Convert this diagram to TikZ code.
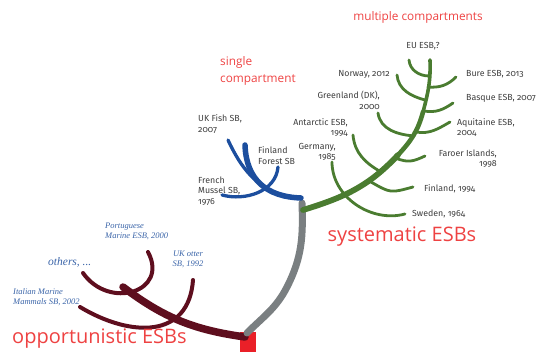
\documentclass[tikz,border=0pt]{standalone}
\usepackage{fontspec}
\setmainfont{Liberation Serif}
\newfontfamily\labfont[Numbers=OldStyle]{Fira Sans}
\newfontfamily\redfont{Open Sans}
\definecolor{esbgreen}{RGB}{74,124,48}
\definecolor{esbblue}{RGB}{28,78,158}
\definecolor{esbmaroon}{RGB}{94,14,30}
\definecolor{esbgrey}{RGB}{122,127,129}
\definecolor{esbred}{RGB}{234,32,40}
\definecolor{redtext}{RGB}{238,66,66}
\definecolor{bluetext}{RGB}{58,100,168}
\definecolor{darktext}{RGB}{62,62,62}
\tikzset{
  lab/.style={inner sep=0pt, text=darktext, font=\labfont\fontsize{8.8}{10.5}\selectfont},
  itlab/.style={inner sep=0pt, text=bluetext, font=\itshape\fontsize{8.5}{10.5}\selectfont},
  bigred/.style={inner sep=0pt, text=redtext, font=\redfont\fontsize{20}{24}\selectfont},
  smallred/.style={inner sep=0pt, text=redtext, font=\redfont\fontsize{11.8}{17}\selectfont},
  greenbr/.style={draw=esbgreen, line width=2.8pt, line cap=round},
  greentr/.style={draw=esbgreen, line cap=round},
  bluebr/.style={draw=esbblue, line width=3.3pt, line cap=round},
  maroonbr/.style={draw=esbmaroon, line width=4pt, line cap=round},
}
\begin{document}
\begin{tikzpicture}[x=1pt,y=1pt]
\useasboundingbox (0,0) rectangle (536,-352);
% red base
\fill[esbred] (240,-332) rectangle (256,-352);
% maroon tree
\draw[maroonbr, line width=7.5pt] (245,-337) to[out=172,in=-37] (123,-287);
\draw[maroonbr] (83,-273) to[out=-55,in=-62,looseness=1.7] (148,-252);
\draw[maroonbr] (80,-307) to[out=-31,in=-94,looseness=1.3] (193,-280);
% grey trunk
\draw[draw=esbgrey, line width=7pt, line cap=round] (247,-333) to[out=45,in=-117] (287,-287) to[out=63,in=-88] (302,-203);
% blue tree
\draw[bluebr, line width=5.5pt] (301,-198) to[out=178,in=-88,looseness=1.15] (245,-145);
\draw[bluebr] (228,-140) to[out=-65,in=160] (285,-197);
\draw[bluebr] (222,-195) to[out=-15,in=-95] (278,-167);
% green tree
\draw[greentr, line width=5.8pt] (303,-210) to[out=17,in=227] (398,-155);
\draw[greentr, line width=4.6pt] (398,-155) to[out=47,in=255] (423,-112);
\draw[greentr, line width=3.6pt] (423,-112) to[out=75,in=-88] (430,-60);
\draw[greenbr] (409,-60) to[out=-85,in=180] (429,-76);
\draw[greenbr] (397,-75) to[out=-85,in=165] (425,-100);
\draw[greenbr] (378,-113) to[out=-82,in=175] (414,-136);
\draw[greenbr] (353,-135) to[out=-85,in=150] (381,-172);
\draw[greenbr] (332,-162) to[out=-90,in=195] (405,-214);
\draw[greenbr] (428,-87) to[out=-5,in=225] (456,-77);
\draw[greenbr] (424,-111) to[out=-10,in=215] (453,-103);
\draw[greenbr] (416,-132) to[out=-10,in=210] (450,-122);
\draw[greenbr] (395,-158) to[out=-20,in=205,looseness=1.2] (425,-156);
\draw[greenbr] (371,-182) to[out=-30,in=195,looseness=1.4] (413,-187);
% red headings
\node[smallred] (multi) at (418,-17) {multiple compartments};
\node[smallred, anchor=west, align=left] (single) at (220,-70.5) {single\\compartment};
\node[bigred] (syst) at (402,-237) {systematic ESBs};
\node[bigred, anchor=west] (opp) at (12,-339) {opportunistic ESBs};
% green labels
\node[lab] (eu) at (423,-46) {EU ESB,?};
\node[lab, anchor=east] (norway) at (390,-74) {Norway, 2012};
\node[lab, anchor=east, align=right] (greenland) at (380,-100.5) {Greenland (DK),\\2000};
\node[lab, anchor=east, align=right] (antarctic) at (348,-127.5) {Antarctic ESB,\\1994};
\node[lab, anchor=east, align=right] (germany) at (336,-152) {Germany,\\1985};
\node[lab, anchor=west] (bure) at (466,-74) {Bure ESB, 2013};
\node[lab, anchor=west] (basque) at (466,-98) {Basque ESB, 2007};
\node[lab, anchor=west, align=left] (aquitaine) at (457,-127.5) {Aquitaine ESB,\\2004};
\node[lab, anchor=east, align=right] (faroer) at (497,-158.5) {Faroer Islands,\\1998};
\node[lab, anchor=west] (finland) at (424,-189) {Finland, 1994};
\node[lab, anchor=west] (sweden) at (412,-214) {Sweden, 1964};
% blue labels
\node[lab, anchor=west, align=left] (ukfish) at (198,-124) {UK Fish SB,\\2007};
\node[lab, anchor=west, align=left] (finforest) at (258,-155.5) {Finland\\Forest SB};
\node[lab, anchor=west, align=left] (french) at (198,-191) {French\\Mussel SB,\\1976};
% maroon labels
\node[itlab, anchor=west, align=left] (portuguese) at (105,-231.5) {Portuguese\\Marine ESB, 2000};
\node[itlab, align=center] (ukotter) at (188,-259.5) {UK otter\\SB, 1992};
\node[itlab, anchor=west, font=\itshape\fontsize{11.5}{13}\selectfont] (others) at (48,-262) {others, ...};
\node[itlab, anchor=west, align=left] (italian) at (13,-297) {Italian Marine\\Mammals SB, 2002};
\end{tikzpicture}
\end{document}
